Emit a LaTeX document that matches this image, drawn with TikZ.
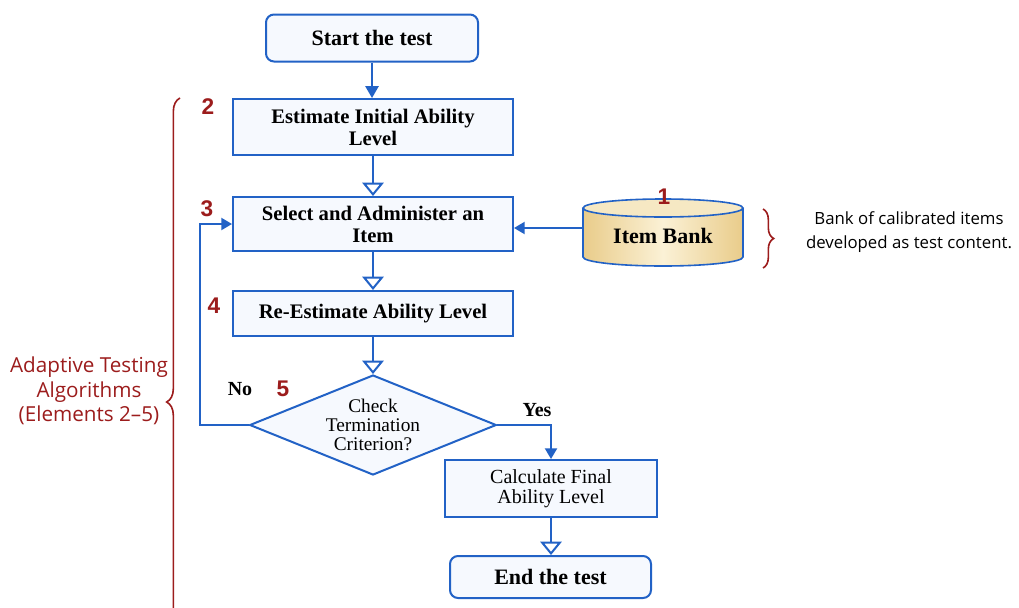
\documentclass[tikz,border=0pt]{standalone}
\usepackage{fontspec}
\setmainfont{Liberation Serif}
\newfontfamily\sidefont{Open Sans}
\newfontfamily\numfont{Liberation Sans}
\usetikzlibrary{arrows.meta,shapes.geometric,decorations.pathreplacing}
\definecolor{flowblue}{HTML}{2262C6}
\definecolor{boxfill}{HTML}{F6F9FE}
\definecolor{darkred}{HTML}{9C1C1C}
\definecolor{banktan}{HTML}{E9CC8A}
\definecolor{banklight}{HTML}{FBF1D6}
\tikzset{
  box/.style={draw=flowblue, line width=1.5pt, fill=boxfill, inner sep=2pt, align=center,
    font=\fontsize{15.5}{16.5}\selectfont\bfseries},
  rbox/.style={box, rounded corners=6pt},
  flow/.style={draw=flowblue, line width=1.5pt},
  openarr/.style={flow, -{Triangle[open,length=10pt,width=16pt,fill=white]}},
  fillarr/.style={flow, -{Triangle[length=8pt,width=9pt]}},
  num/.style={text=darkred, inner sep=0pt, font=\numfont\bfseries\fontsize{17}{17}\selectfont},
  yn/.style={font=\fontsize{15}{15}\selectfont\bfseries},
  brc/.style={draw=darkred, line width=1.2pt, decorate},
}
\begin{document}
\begin{tikzpicture}[x=0.75pt,y=0.75pt]
\clip (0,0) rectangle (1019,-607);
\fill[white] (0,0) rectangle (1019,-607);

% boxes
\node[rbox, minimum width=159pt, minimum height=35.25pt, font=\fontsize{16.5}{17}\selectfont\bfseries] (start) at (372,-38) {Start the test};
\node[box, minimum width=210pt, minimum height=42pt] (est) at (373,-127) {Estimate Initial Ability\\Level};
\node[box, minimum width=210pt, minimum height=40.5pt] (select) at (373,-224) {Select and Administer an\\Item};
\node[box, minimum width=210pt, minimum height=33.75pt] (reest) at (373,-313.5) {Re-Estimate Ability Level};
\node[draw=flowblue, line width=1.5pt, fill=boxfill, diamond, aspect=2.47, inner sep=0pt,
  minimum width=185pt, minimum height=75pt, align=center,
  font=\fontsize{14.5}{14}\selectfont] (dec) at (373,-425) {Check\\Termination\\Criterion?};
\node[box, minimum width=159pt, minimum height=42.75pt, font=\fontsize{15}{15}\selectfont] (calc) at (551,-488.5) {Calculate Final\\Ability Level};
\node[rbox, minimum width=150.75pt, minimum height=31.5pt, font=\fontsize{16.5}{17}\selectfont\bfseries] (end) at (550.5,-577) {End the test};

% item bank cylinder
\shade[left color=banktan, right color=banktan, middle color=banklight]
  (583,-208) -- (583,-257) arc[start angle=180, end angle=360, x radius=80, y radius=9]
  -- (743,-208) arc[start angle=0, end angle=180, x radius=80, y radius=9] -- cycle;
\draw[flowblue, line width=1.2pt] (583,-208) -- (583,-257)
  arc[start angle=180, end angle=360, x radius=80, y radius=9] -- (743,-208);
\filldraw[fill=banklight!75!banktan, draw=flowblue, line width=1.2pt] (663,-208) ellipse [x radius=80, y radius=9];
\node[minimum width=120pt, minimum height=36pt, font=\fontsize{16.5}{17}\selectfont\bfseries] (bank) at (663,-236) {Item Bank};

% connectors
\draw[flow, -{Triangle[length=9pt,width=10pt]}] (start.south) -- (start.south |- est.north);
\draw[openarr] (est.south) -- (select.north);
\draw[openarr] (select.south) -- (reest.north);
\draw[openarr] (reest.south) -- (dec.north);
\draw[fillarr] (bank.west |- 0,-228) -- (select.east |- 0,-228);
\coordinate (noc) at (200,-425);
\draw[fillarr] (dec.west) -- (noc) |- (select.west);
\draw[fillarr] (dec.east) -| (calc.north);
\draw[openarr] (calc.south) -- (calc.south |- end.north);

% labels
\node[yn] (nolbl) at (240,-389) {No};
\node[yn] (yeslbl) at (537,-410) {Yes};
\node[num] (n1) at (664,-197) {1};
\node[num] (n2) at (208,-107) {2};
\node[num] (n3) at (207,-209) {3};
\node[num] (n4) at (214,-306) {4};
\node[num] (n5) at (283,-389) {5};

% braces and side texts
\draw[brc, decoration={brace, amplitude=8pt}] (763,-209) -- (763,-268);
\node[font=\sidefont\fontsize{12.6}{17.5}\selectfont, align=center] (banknote) at (909,-232) {Bank of calibrated items\\developed as test content.};
\draw[brc, decoration={brace, amplitude=10pt}] (180,-706) -- (180,-98);
\node[text=darkred, font=\sidefont\fontsize{15.5}{18.5}\selectfont, align=center] (algo) at (89,-391) {Adaptive Testing\\Algorithms\\(Elements 2–5)};
\end{tikzpicture}
\end{document}
